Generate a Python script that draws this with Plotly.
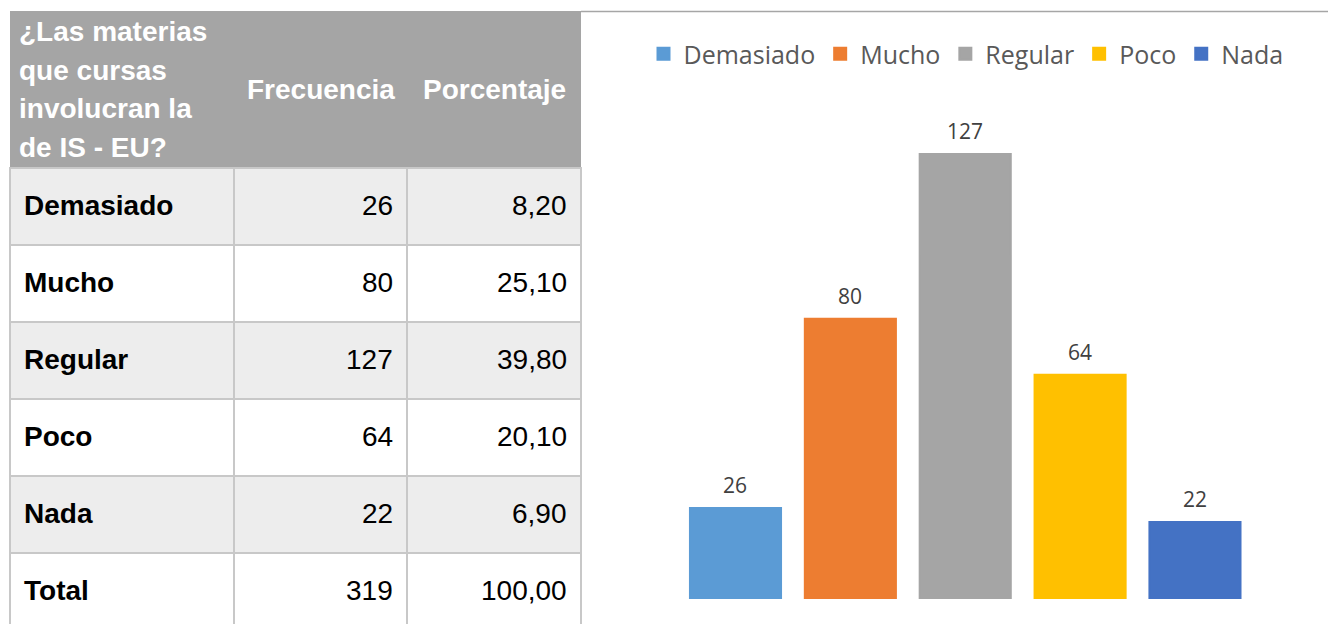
import plotly.graph_objects as go

# ---------------- data ----------------
categories = ["Demasiado", "Mucho", "Regular", "Poco", "Nada"]
frecuencia = [26, 80, 127, 64, 22]
porcentaje = [8.20, 25.10, 39.80, 20.10, 6.90]
total_label = "Total"
total_frecuencia = 319
total_porcentaje = 100.00
header_question = ["¿Las materias", "que cursas", "involucran la", "de IS - EU?"]
header_cols = ["Frecuencia", "Porcentaje"]
bar_colors = ["#5b9bd5", "#ed7d31", "#a5a5a5", "#ffc000", "#4472c4"]

# ---------------- layout constants ----------------
W, H = 1336, 624
OX, OY = 8, 8  # page body margin offset
def px(x):
    return (x - OX) / W
def py(y):
    return 1 - (y - OY) / H

col_edges = [10, 234, 407, 581]
header_top, header_bottom = 11, 168
row_h = 77
table_font = "Liberation Sans, Arial, sans-serif"
fs = 28

fig = go.Figure()

# ---------------- bar chart ----------------
for cat, val, col in zip(categories, frecuencia, bar_colors):
    fig.add_trace(go.Bar(
        x=[cat], y=[val], name=cat, marker_color=col, width=0.793,
        marker_line=dict(color=col, width=2),
        hoverinfo="x+y",
    ))

baseline, plot_top = 599, 110
y_max = (baseline - plot_top) / 3.504
fig.update_layout(
    barmode="overlay",
    xaxis=dict(domain=[px(678.06), px(1252.4)], range=[-0.5, 4.5],
               visible=False, categoryorder="array", categoryarray=categories),
    yaxis=dict(domain=[py(baseline), py(plot_top)], range=[0, y_max],
               visible=False),
)

annotations = []
shapes = []

# data labels
for cat, val in zip(categories, frecuencia):
    annotations.append(dict(
        x=cat, y=val, xref="x", yref="y", text=str(val), showarrow=False,
        yanchor="bottom", yshift=7,
        font=dict(family="Open Sans", size=21, color="#404040"),
    ))

# chart top border
shapes.append(dict(type="line", xref="paper", yref="paper",
                   x0=px(581), x1=px(1344), y0=py(11.5), y1=py(11.5),
                   line=dict(color="#a6a6a6", width=1.5)))

# ---------------- table ----------------
shapes.append(dict(type="rect", xref="paper", yref="paper",
                   x0=px(col_edges[0]), x1=px(col_edges[3]),
                   y0=py(header_top), y1=py(header_bottom),
                   fillcolor="#a5a5a5", line=dict(width=0), layer="below"))

line_gap = 38.7
hc = (header_top + header_bottom) / 2
n = len(header_question)
for i, t in enumerate(header_question):
    yc = hc + (i - (n - 1) / 2) * line_gap
    annotations.append(dict(
        x=px(17), y=py(yc), xref="paper", yref="paper", text="<b>%s</b>" % t,
        showarrow=False, xanchor="left", yanchor="middle",
        font=dict(family=table_font, size=fs, color="white"),
    ))
for j, t in enumerate(header_cols):
    xc = (col_edges[j + 1] + col_edges[j + 2]) / 2
    annotations.append(dict(
        x=px(xc), y=py(hc), xref="paper", yref="paper", text="<b>%s</b>" % t,
        showarrow=False, xanchor="center", yanchor="middle",
        font=dict(family=table_font, size=fs, color="white"),
    ))

def fmt(v):
    return ("%.2f" % v).replace(".", ",")

rows = [(c, str(f), fmt(p)) for c, f, p in zip(categories, frecuencia, porcentaje)]
rows.append((total_label, str(total_frecuencia), fmt(total_porcentaje)))

for i, (lab, f, p) in enumerate(rows):
    top = header_bottom + i * row_h
    bot = top + row_h
    fill = "#ededed" if i % 2 == 0 else "#ffffff"
    for j in range(3):
        shapes.append(dict(type="rect", xref="paper", yref="paper",
                           x0=px(col_edges[j]), x1=px(col_edges[j + 1]),
                           y0=py(top), y1=py(bot), fillcolor=fill,
                           line=dict(color="#c8c8c8", width=2), layer="below"))
    yc = (top + bot) / 2 - 1
    annotations.append(dict(
        x=px(col_edges[0] + 12), y=py(yc), xref="paper", yref="paper",
        text="<b>%s</b>" % lab, showarrow=False, xanchor="left", yanchor="middle",
        font=dict(family=table_font, size=fs, color="black"),
    ))
    for j, t in enumerate([f, p]):
        annotations.append(dict(
            x=px(col_edges[j + 2] - 12), y=py(yc), xref="paper", yref="paper",
            text=t, showarrow=False, xanchor="right", yanchor="middle",
            font=dict(family=table_font, size=fs, color="black"),
        ))

fig.update_layout(
    width=W, height=H,
    margin=dict(l=0, r=0, t=0, b=0),
    paper_bgcolor="white", plot_bgcolor="white",
    showlegend=True,
    legend=dict(orientation="h", x=px(966), xanchor="center",
                y=py(54), yanchor="middle",
                font=dict(family="Open Sans", size=25, color="#595959"),
                itemclick=False, itemdoubleclick=False),
    annotations=annotations,
    shapes=shapes,
)

fig.write_html("out.html")
